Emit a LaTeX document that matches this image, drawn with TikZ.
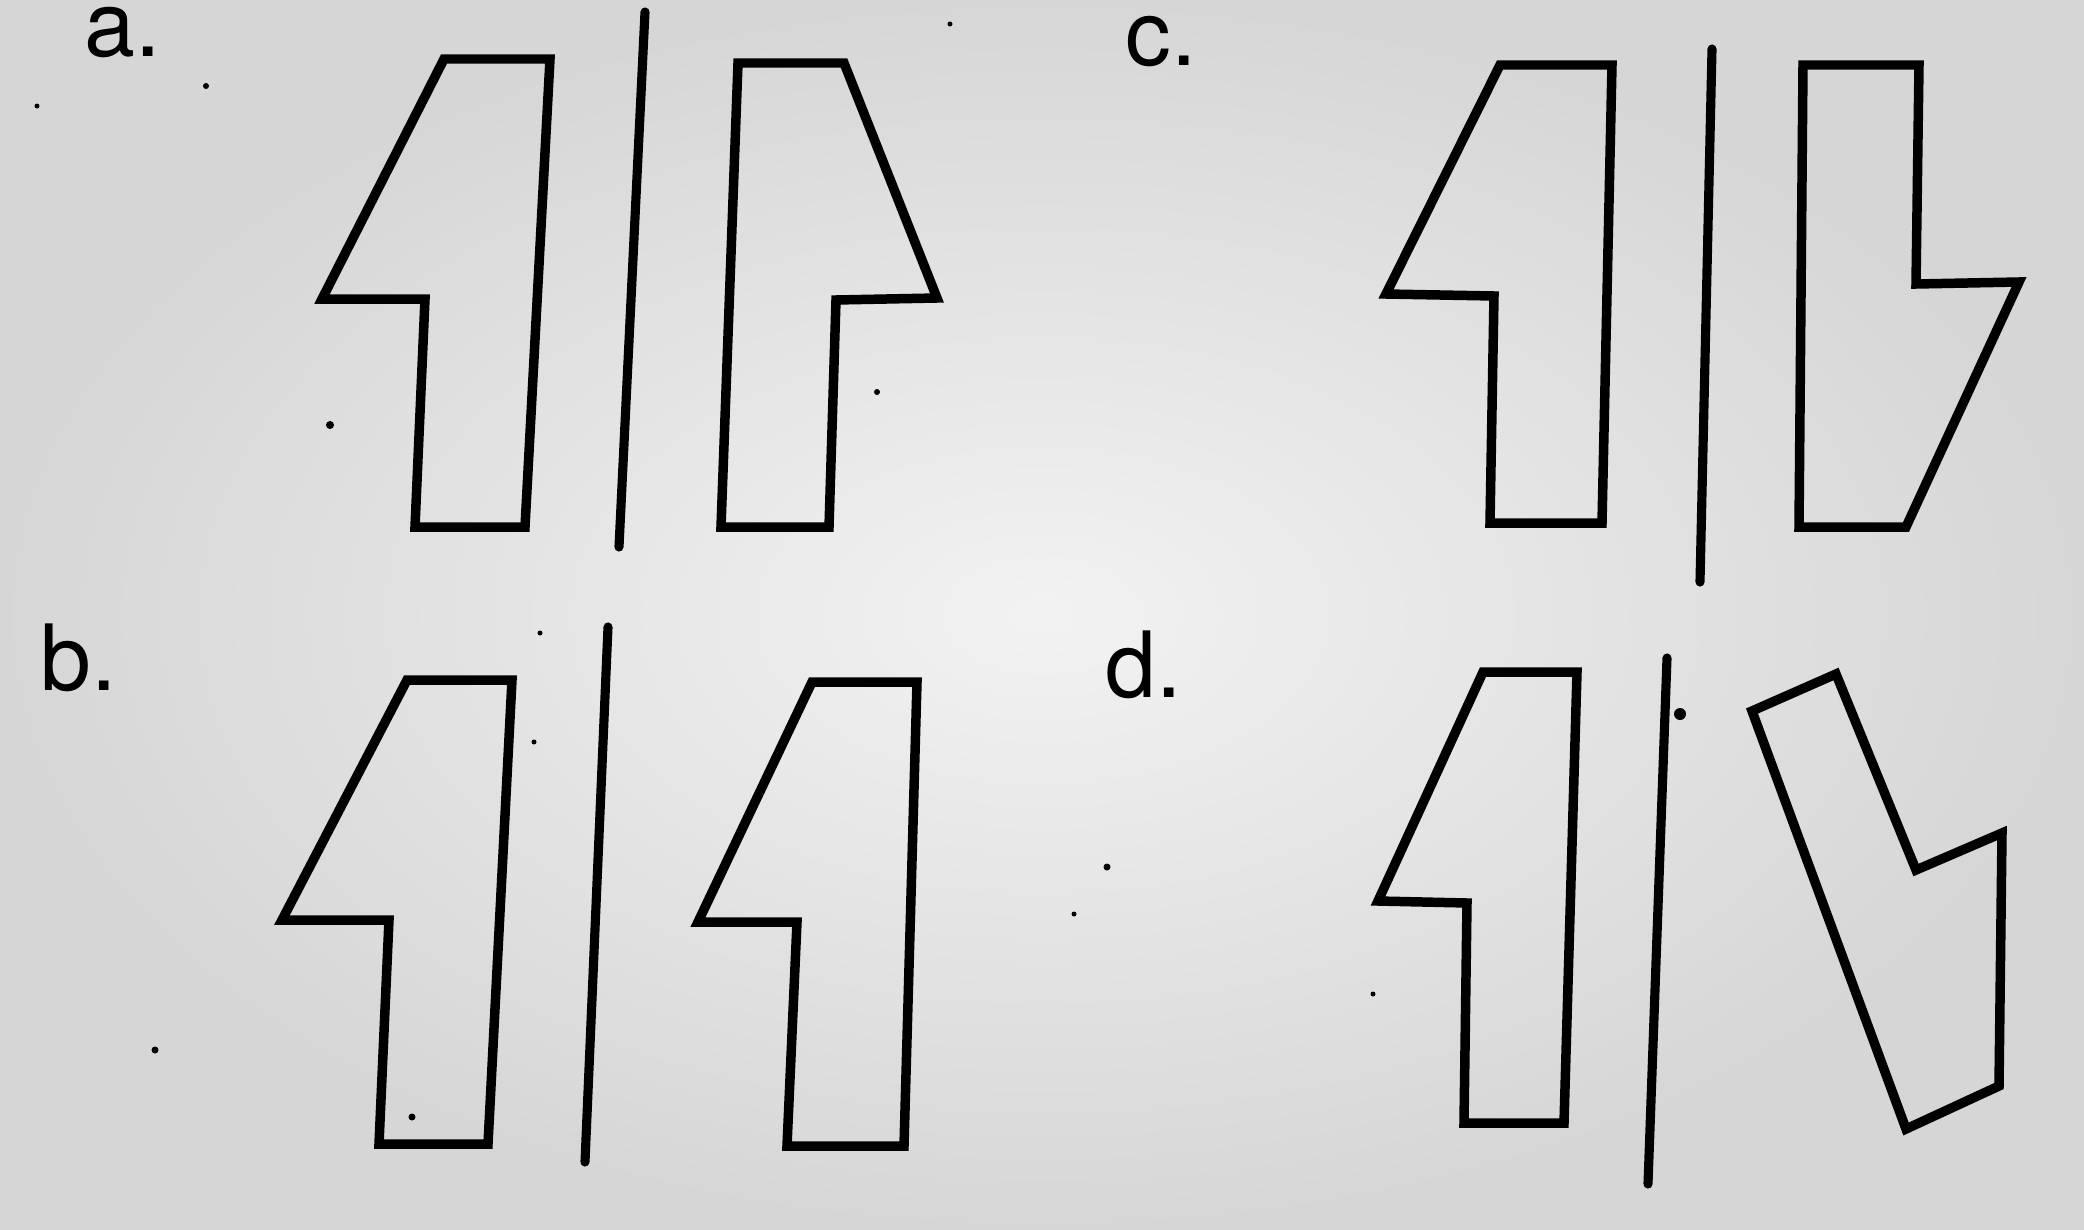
\documentclass[tikz,border=0pt]{standalone}
\usepackage{fontspec}
\setsansfont{TeX Gyre Heros}
\begin{document}
\begin{tikzpicture}[x=0.01cm,y=-0.01cm,
  outline/.style={draw=black,line width=2.7pt,line join=miter},
  mirror/.style={draw=black,line width=2.6pt,line cap=round},
  lbl/.style={font=\sffamily\fontsize{26}{30}\selectfont,anchor=base west,inner sep=0pt},
  speck/.style={fill=black}]
\useasboundingbox (0,0) rectangle (2084,1230);
\fill[inner color=gray!10,outer color=gray!32] (0,0) rectangle (2084,1230);
% labels
\node[lbl] (la) at (84,57) {a.};
\node[lbl] (lb) at (40,690) {b.};
\node[lbl] (lc) at (1125,65) {c.};
\node[lbl] (ld) at (1105,697) {d.};
% panel a
\draw[outline] (444,59) -- (550,59) -- (525,527) -- (415,527) -- (425,299) -- (322,299) -- cycle;
\draw[mirror] (645,12) -- (619,547);
\draw[outline] (738,63) -- (844,63) -- (937,298) -- (836,300) -- (829,527) -- (721,527) -- cycle;
% panel b
\draw[outline] (407,680) -- (512,680) -- (488,1144) -- (379,1144) -- (389,920) -- (282,920) -- cycle;
\draw[mirror] (608,627) -- (585,1162);
\draw[outline] (812,682) -- (917,682) -- (904,1146) -- (787,1146) -- (797,922) -- (698,922) -- cycle;
% panel c
\draw[outline] (1500,65) -- (1612,65) -- (1602,523) -- (1490,523) -- (1494,296) -- (1386,294) -- cycle;
\draw[mirror] (1712,49) -- (1700,582);
\draw[outline] (1803,65) -- (1919,65) -- (1916,284) -- (2019,282) -- (1906,527) -- (1799,527) -- cycle;
% panel d
\draw[outline] (1483,672) -- (1577,672) -- (1564,1123) -- (1464,1123) -- (1467,903) -- (1378,901) -- cycle;
\draw[mirror] (1667,658) -- (1648,1184);
\draw[outline] (1836,674) -- (1916,870) -- (2002,833) -- (1999,1086) -- (1906,1129) -- (1752,711) -- cycle;
% specks
\fill[speck] (1680,714) circle (6);
\fill[speck] (330,425) circle (4);
\fill[speck] (155,1050) circle (3.5);
\fill[speck] (877,392) circle (3);
\fill[speck] (1107,867) circle (3.5);
\fill[speck] (1074,914) circle (2.5);
\fill[speck] (1373,994) circle (2.5);
\fill[speck] (540,633) circle (2.5);
\fill[speck] (534,742) circle (2.5);
\fill[speck] (412,1117) circle (3.5);
\fill[speck] (950,24) circle (2.5);
\fill[speck] (37,106) circle (2.5);
\fill[speck] (206,86) circle (3);
\end{tikzpicture}
\end{document}
